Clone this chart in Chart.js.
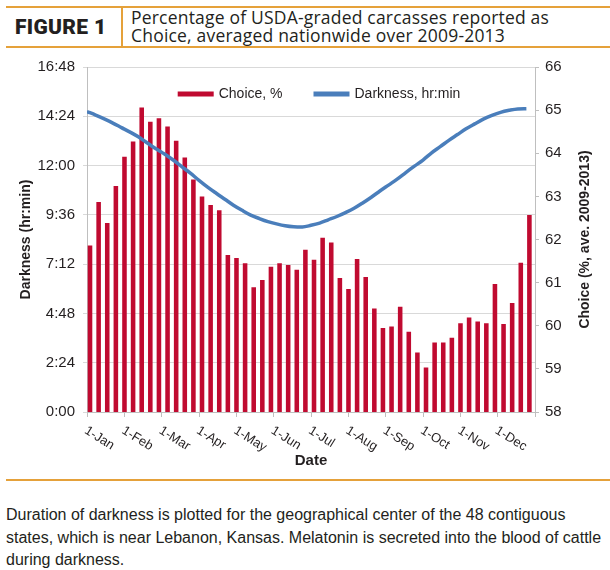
<!DOCTYPE html>
<html>
<head>
<meta charset="utf-8">
<script src="https://cdn.jsdelivr.net/npm/chart.js@4.4.0/dist/chart.umd.min.js"></script>
<style>
  html, body { margin: 0; padding: 0; background: #fff; }
  body { width: 610px; height: 570px; position: relative; overflow: hidden; color: #231f20; font-family: "Liberation Sans", Arial, sans-serif; }
  #header { position: absolute; left: 6px; top: 6px; width: 604px; height: 38px; border-top: 2px solid #e5a13a; border-bottom: 2px solid #e5a13a; }
  #fig { position: absolute; left: 9px; top: 0; height: 38px; line-height: 38px; font-family: Roboto, sans-serif; font-weight: 900; font-size: 21px; letter-spacing: 0.3px; }
  #divider { position: absolute; left: 115px; top: 0; width: 1.5px; height: 38px; background: #e5a13a; }
  #title { position: absolute; left: 125px; top: 1px; font-family: "Open Sans", sans-serif; font-size: 17.5px; line-height: 17.5px; letter-spacing: 0.2px; }
  #chart-wrap { position: absolute; left: 0; top: 50px; width: 610px; height: 428px; }
  #rule { position: absolute; left: 6px; top: 479px; width: 604px; height: 2px; background: #e5a13a; }
  #caption { position: absolute; left: 6px; top: 504px; font-size: 16px; line-height: 22.5px; white-space: nowrap; }
</style>
</head>
<body>
<div id="header">
  <div id="fig">FIGURE 1</div>
  <div id="divider"></div>
  <div id="title">Percentage of USDA-graded carcasses reported as<br>Choice, averaged nationwide over 2009-2013</div>
</div>
<div id="chart-wrap"><canvas id="chart" width="610" height="428"></canvas></div>
<div id="rule"></div>
<div id="caption">Duration of darkness is plotted for the geographical center of the 48 contiguous<br>states, which is near Lebanon, Kansas. Melatonin is secreted into the blood of cattle<br>during darkness.</div>

<script>
// Month tick labels on the date axis
const monthLabels = ["1-Jan", "1-Feb", "1-Mar", "1-Apr", "1-May", "1-Jun",
  "1-Jul", "1-Aug", "1-Sep", "1-Oct", "1-Nov", "1-Dec"];

// Weekly % Choice (right axis), 52 weeks
const choiceValues = [61.86, 62.87, 62.38, 63.24, 63.92, 64.27, 65.06, 64.73, 64.81, 64.62,
  64.29, 63.90, 63.39, 63.00, 62.80, 62.68, 61.64, 61.57, 61.45, 60.89,
  61.06, 61.37, 61.45, 61.41, 61.30, 61.76, 61.53, 62.04, 61.93, 61.11,
  60.85, 61.55, 61.13, 60.40, 59.95, 59.98, 60.44, 59.86, 59.38, 59.03,
  59.61, 59.61, 59.72, 60.06, 60.19, 60.10, 60.06, 60.97, 60.04, 60.53,
  61.46, 62.57];

// Weekly darkness in hours (left axis), 52 weeks
const darknessHours = [14.63, 14.46, 14.27, 14.07, 13.85, 13.63, 13.39, 13.10, 12.82, 12.56,
  12.27, 11.95, 11.63, 11.28, 10.95, 10.65, 10.36, 10.07, 9.82, 9.59,
  9.42, 9.27, 9.16, 9.07, 9.02, 9.01, 9.09, 9.20, 9.36, 9.52,
  9.71, 9.92, 10.18, 10.46, 10.76, 11.05, 11.34, 11.66, 11.97, 12.27,
  12.62, 12.92, 13.23, 13.51, 13.79, 14.03, 14.26, 14.44, 14.59, 14.69,
  14.76, 14.77];

const fontFamily = "'Liberation Sans', Arial, sans-serif";
const textColor = "#231f20";
const barColor = "#c00a30";
const lineColor = "#4a7ebb";

Chart.defaults.font.family = fontFamily;
Chart.defaults.font.size = 14;
Chart.defaults.color = textColor;

// week index -> position in months on the x axis
const weekToMonth = (w) => w * 12 / 52;

function hrMin(v) {
  const m = Math.round(v * 60);
  return Math.floor(m / 60) + ":" + String(m % 60).padStart(2, "0");
}

// Legend inside the plot, plus slanted month labels and right-hand title
const extraText = {
  id: "extraText",
  afterDraw(chart) {
    const { ctx, chartArea, scales } = chart;
    const x = scales.x;
    ctx.save();
    ctx.fillStyle = textColor;

    // month labels, slanted down to the right
    ctx.font = "13px " + fontFamily;
    ctx.textAlign = "left";
    ctx.textBaseline = "top";
    monthLabels.forEach((label, i) => {
      ctx.save();
      ctx.translate(x.getPixelForValue(i) + 2, x.top + 12);
      ctx.rotate(0.56);
      ctx.fillText(label, 0, 0);
      ctx.restore();
    });

    // legend
    ctx.font = "14px " + fontFamily;
    ctx.textBaseline = "middle";
    const items = chart.data.datasets.map((ds) => ({ label: ds.label, color: ds.legendColor }));
    const boxW = 36, gap = 5, between = 31;
    let total = 0;
    items.forEach((it, i) => {
      total += boxW + gap + ctx.measureText(it.label).width + (i ? between : 0);
    });
    let px = (chartArea.left + chartArea.right) / 2 + 8 - total / 2;
    const py = chartArea.top + 27;
    items.forEach((it) => {
      ctx.fillStyle = it.color;
      ctx.fillRect(px, py - 2.5, boxW, 5);
      ctx.fillStyle = textColor;
      ctx.fillText(it.label, px + boxW + gap, py);
      px += boxW + gap + ctx.measureText(it.label).width + between;
    });

    // right axis title, reading bottom to top
    const yr = scales.yChoice;
    ctx.font = "bold 14px " + fontFamily;
    ctx.textAlign = "center";
    ctx.translate(yr.right - 25, (chartArea.top + chartArea.bottom) / 2);
    ctx.rotate(-Math.PI / 2);
    ctx.fillText("Choice (%, ave. 2009-2013)", 0, 0);
    ctx.restore();
  }
};

const ctx = document.querySelector("#chart").getContext("2d");
new Chart(ctx, {
  type: "bar",
  data: {
    datasets: [
      {
        label: "Choice, %",
        data: choiceValues.map((v, i) => ({ x: weekToMonth(i + 0.35), y: v })),
        backgroundColor: barColor,
        legendColor: barColor,
        yAxisID: "yChoice",
        categoryPercentage: 1,
        barPercentage: 0.53,
        order: 1,
      },
      {
        type: "line",
        label: "Darkness, hr:min",
        data: darknessHours.map((v, i) => ({ x: weekToMonth(i), y: v })),
        borderColor: lineColor,
        legendColor: lineColor,
        borderWidth: 3.5,
        pointRadius: 0,
        cubicInterpolationMode: "monotone",
        yAxisID: "yDark",
        order: 0,
      },
    ],
  },
  options: {
    responsive: false,
    animation: false,
    devicePixelRatio: 1,
    layout: { padding: { top: 17, left: 0, right: 0, bottom: 0 } },
    plugins: {
      legend: { display: false },
      tooltip: { enabled: false },
    },
    scales: {
      x: {
        type: "linear",
        min: 0,
        max: 12,
        offset: false,
        ticks: { stepSize: 1, display: false },
        grid: { offset: false, drawOnChartArea: false, tickLength: 5, color: "#bfbfbf" },
        border: { color: "#bfbfbf" },
        title: { display: true, text: "Date", font: { weight: "bold", size: 15 }, padding: { top: 0, bottom: 8 } },
        afterFit(scale) { scale.height = 66; },
      },
      yDark: {
        position: "left",
        min: 0,
        max: 16.8,
        ticks: { stepSize: 2.4, padding: 8, font: { size: 15 }, callback: (v) => hrMin(v) },
        grid: { color: "#d9d9d9", tickLength: 4 },
        border: { color: "#bfbfbf" },
        title: { display: true, text: "Darkness (hr:min)", font: { weight: "bold", size: 14 }, padding: { top: 18, bottom: 0 } },
        afterFit(scale) { scale.width = 87; },
      },
      yChoice: {
        position: "right",
        min: 58,
        max: 66,
        ticks: { stepSize: 1, padding: 6, font: { size: 15 } },
        grid: { drawOnChartArea: false, color: "#bfbfbf", tickLength: 4 },
        border: { color: "#bfbfbf" },
        afterFit(scale) { scale.width = 75; },
      },
    },
  },
  plugins: [extraText],
});
</script>
</body>
</html>
